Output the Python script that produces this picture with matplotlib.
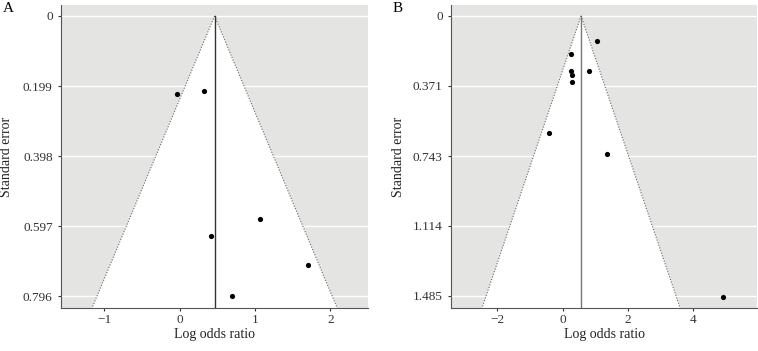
import matplotlib
matplotlib.use("Agg")
import matplotlib.pyplot as plt
import numpy as np

plt.rcParams['font.family'] = ['Liberation Serif', 'DejaVu Serif']

# Panel A data
a_lor = [-0.03, 0.33, 0.42, 1.07, 1.70, 0.70]
a_se = [0.221, 0.214, 0.626, 0.578, 0.708, 0.797]
a_center = 0.464
a_yticks = [0, 0.199, 0.398, 0.597, 0.796]
a_xticks = [-1, 0, 1, 2]

# Panel B data
b_lor = [1.04, 0.25, 0.25, 0.30, 0.28, 0.82, -0.42, 1.36, 4.91]
b_se = [0.134, 0.201, 0.290, 0.311, 0.348, 0.290, 0.619, 0.730, 1.488]
b_center = 0.567
b_yticks = [0, 0.371, 0.743, 1.114, 1.485]
b_xticks = [-2, 0, 2, 4]

fig = plt.figure(figsize=(7.58, 3.51), dpi=100)
axA = fig.add_axes([0.0805, 0.1225, 0.405, 0.8633])
axB = fig.add_axes([0.595, 0.1225, 0.4037, 0.8633])

def funnel(ax, lor, se, center, yticks, xticks, xlim, ylim, vcol, ylab_x):
    ax.set_facecolor('#e4e4e2')
    ax.set_xlim(*xlim)
    ax.set_ylim(ylim[1], ylim[0])
    ymax = ylim[1]
    # white funnel region
    ax.fill([center, center - 1.96 * ymax, center + 1.96 * ymax],
            [0, ymax, ymax], color='white', zorder=1, lw=0)
    for yt in yticks:
        ax.axhline(yt, color='white', lw=1.0, zorder=0.5)
    ax.plot([center, center - 1.96 * ymax], [0, ymax], ls=(0, (1, 1.5)),
            color='#666666', lw=0.8, zorder=2)
    ax.plot([center, center + 1.96 * ymax], [0, ymax], ls=(0, (1, 1.5)),
            color='#666666', lw=0.8, zorder=2)
    ax.plot([center, center], [0, ymax], color=vcol, lw=1.0, zorder=2)
    ax.scatter(lor, se, s=14, color='black', zorder=3, linewidths=0)
    ax.set_yticks(yticks)
    ax.set_yticklabels([('%g' % v) if v == 0 else ('%.3f' % v) for v in yticks])
    ax.set_xticks(xticks)
    ax.set_xticklabels([str(v).replace('-', '\u2212') for v in xticks])
    ax.tick_params(labelsize=9.5, colors='#333333', length=2.5, width=0.8,
                   labelcolor='#333333')
    ax.tick_params(axis='x', pad=2)
    for s in ['top', 'right']:
        ax.spines[s].set_visible(False)
    for s in ['left', 'bottom']:
        ax.spines[s].set_color('#555555')
        ax.spines[s].set_linewidth(0.8)
    ax.grid(False)
    ax.set_xlabel('Log odds ratio', fontsize=10, color='#222222')
    ax.xaxis.set_label_coords(0.5, -0.065)
    ax.set_ylabel('Standard error', fontsize=10, color='#222222')
    ax.yaxis.set_label_coords(ylab_x, 0.5)

funnel(axA, a_lor, a_se, a_center, a_yticks, a_xticks,
       (-1.574, 2.50), (-0.0313, 0.830), '#333333', -0.155)
funnel(axB, b_lor, b_se, b_center, b_yticks, b_xticks,
       (-3.42, 5.96), (-0.058, 1.549), '#777777', -0.15)

fig.text(0.004, 0.975, 'A', fontsize=11, va='center', ha='left')
fig.text(0.518, 0.975, 'B', fontsize=11, va='center', ha='left')

fig.savefig('out.png', dpi=100)
